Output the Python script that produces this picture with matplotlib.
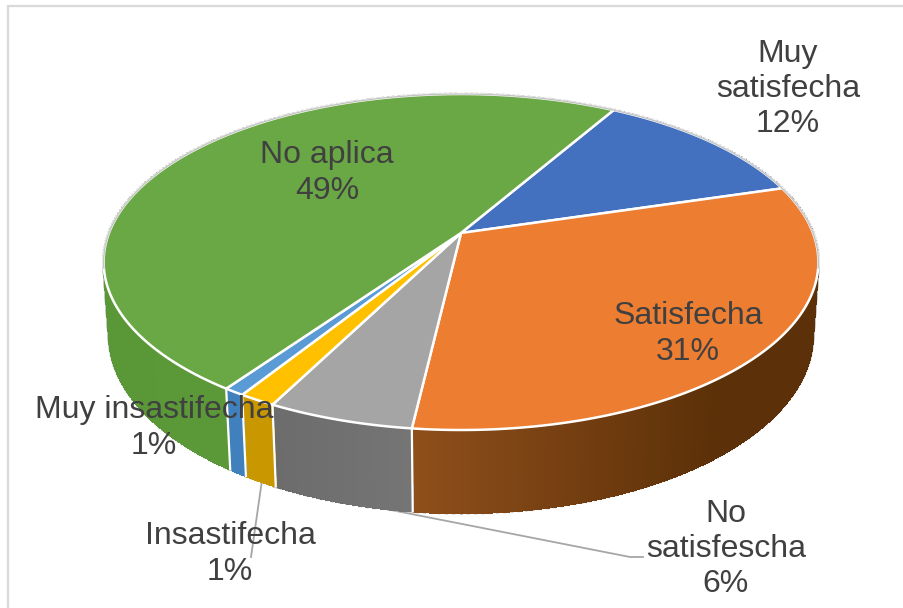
import matplotlib
matplotlib.use('Agg')
import matplotlib.pyplot as plt
import matplotlib.colors as mcolors
import numpy as np

plt.rcParams['font.family'] = ['Liberation Sans', 'DejaVu Sans']

# Data (shares in percent, first slice starts at START_ANGLE, clockwise)
categories = ['Muy satisfecha', 'Satisfecha', 'No satisfescha', 'Insastifecha', 'Muy insastifecha', 'No aplica']
values = [12.05, 31.49, 5.64, 1.42, 0.8, 48.6]
label_names = ['Muy\nsatisfecha', 'Satisfecha', 'No\nsatisfescha', 'Insastifecha', 'Muy insastifecha', 'No aplica']
top_colors = ['#4371c0', '#ed7d31', '#a5a5a5', '#ffc000', '#5b9bd5', '#6aa845']
side_left = ['#2f5597', '#8f4f1b', '#6c6c6c', '#c99700', '#4080bd', '#5a9737']
side_right = ['#2f5597', '#5c3008', '#757575', '#c99700', '#4080bd', '#5f9c3c']

label_pos = [(788, 89), (688, 334), (726, 549), (230, 554), (154, 428), (327, 173)]
leader_lines = [[(274, 487), (630, 557), (643, 557)], [(262, 480), (251, 557)]]

START_ANGLE = 60.1
# Perspective of the 3D pie, in pixels
CX, CY = 461, 233
A, B = 352, 163
K, M, C = 0.1726, 0.015, 73


def project(theta, depth=0.0):
    # theta in degrees on the unit circle, depth 0 = top face, 1 = bottom face
    t = np.radians(theta)
    X, Y = np.cos(t), np.sin(t)
    w = 1 + K * Y + M * depth
    return CX + A * X / w, CY - (B * Y - C * depth) / w


fig = plt.figure(figsize=(9.04, 6.08), dpi=100)
ax = fig.add_axes([0, 0, 1, 1])
ax.set_xlim(0, 904)
ax.set_ylim(608, 0)
ax.axis('off')

# Grey chart frame, cut by the right and bottom of the picture
ax.plot([8, 8, 904], [608, 6, 6], color='#d9d9d9', lw=1.6, solid_joinstyle='miter', zorder=1)

# Leader lines
for pts in leader_lines:
    xs, ys = zip(*pts)
    ax.plot(xs, ys, color='#a6a6a6', lw=1.3, zorder=2)

# Outline halo around the whole solid
all_t = np.linspace(0, 360, 721)
halo = '#c4c4c4'
for th in all_t[::2]:
    x0, y0 = project(th, 0)
    x1, y1 = project(th, 1)
    ax.plot([x0, x1], [y0, y1], color=halo, lw=2.2, zorder=3)

# Slice limits, clockwise from the start angle
spans = np.array(values) / sum(values) * 360
ends = START_ANGLE - np.cumsum(spans)
starts = ends + spans

# Sides, in thin strips so the colour can run from left to right
for i in range(len(values)):
    t = np.linspace(starts[i], ends[i], max(int(spans[i]) * 3, 2) + 1)
    c_l = np.array(mcolors.to_rgb(side_left[i]))
    c_r = np.array(mcolors.to_rgb(side_right[i]))
    x_all = project(t)[0]
    x_min, x_max = x_all.min(), min(x_all.max(), 720)
    for a, b in zip(t[:-1], t[1:]):
        xa, ya = project(a, 0)
        xb, yb = project(b, 0)
        xc, yc = project(b, 1)
        xd, yd = project(a, 1)
        f = np.clip((xa - x_min) / max(x_max - x_min, 1), 0, 1)
        col = c_l + (c_r - c_l) * f
        ax.fill([xa, xb, xc, xd], [ya, yb, yc, yd], color=col, lw=0.8, antialiased=False, zorder=4)

# White lines between the sides
for th in starts:
    x0, y0 = project(th, 0)
    x1, y1 = project(th, 1)
    ax.plot([x0, x1], [y0, y1], color='white', lw=1.6, zorder=5)

# Top face
for i in range(len(values)):
    t = np.linspace(starts[i], ends[i], max(int(spans[i]), 2) * 2 + 1)
    xs, ys = project(t)
    ax.fill(np.r_[CX, xs], np.r_[CY, ys], facecolor=top_colors[i], edgecolor='white',
            lw=1.8, joinstyle='round', zorder=6)

# Thin grey rim on the back half of the top face
t_back = np.linspace(-12, 192, 300)
xs, ys = project(t_back)
ax.plot(xs, ys, color='#c4c4c4', lw=1.0, zorder=7)

# Labels
for name, value, (lx, ly) in zip(label_names, values, label_pos):
    ax.text(lx, ly, f'{name}\n{round(value)}%', ha='center', va='center', fontsize=23,
            color='#404040', linespacing=1.22, zorder=8)

fig.savefig('out.png', dpi=100, facecolor='white')
